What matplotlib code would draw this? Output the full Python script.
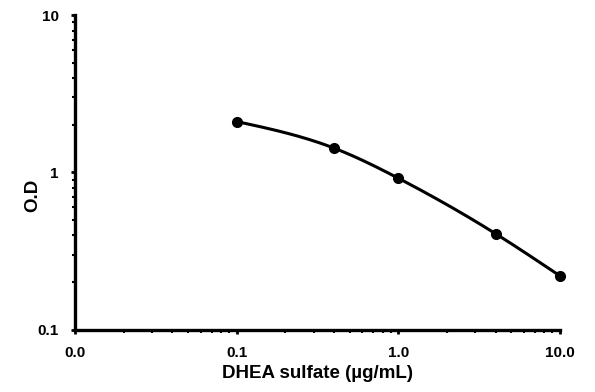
"""Standard curve: DHEA sulfate vs O.D"""

import numpy as np
import matplotlib
matplotlib.use("Agg")
import matplotlib.pyplot as plt
from matplotlib.ticker import FuncFormatter, LogLocator

conc = [0.1, 0.4, 1.0, 4.0, 10.0]
od = [2.11, 1.43, 0.92, 0.408, 0.22]
x_ticks = [0.01, 0.1, 1.0, 10.0]
y_ticks = [0.1, 1, 10]


def smooth(x, y, n=200):
    # natural cubic spline through the points, in log-log space
    lx, ly = np.log10(x), np.log10(y)
    k = len(lx)
    h = np.diff(lx)
    A = np.zeros((k, k))
    b = np.zeros(k)
    A[0, 0] = A[-1, -1] = 1
    for i in range(1, k - 1):
        A[i, i - 1] = h[i - 1]
        A[i, i] = 2 * (h[i - 1] + h[i])
        A[i, i + 1] = h[i]
        b[i] = 3 * ((ly[i + 1] - ly[i]) / h[i] - (ly[i] - ly[i - 1]) / h[i - 1])
    c = np.linalg.solve(A, b)
    xs, ys = [], []
    for i in range(k - 1):
        t = np.linspace(0, h[i], n // (k - 1))
        bi = (ly[i + 1] - ly[i]) / h[i] - h[i] * (2 * c[i] + c[i + 1]) / 3
        di = (c[i + 1] - c[i]) / (3 * h[i])
        xs.append(lx[i] + t)
        ys.append(ly[i] + bi * t + c[i] * t ** 2 + di * t ** 3)
    return 10 ** np.concatenate(xs), 10 ** np.concatenate(ys)


def main():
    plt.rcParams['font.family'] = ['Liberation Sans', 'DejaVu Sans']
    plt.rcParams['font.weight'] = 'bold'

    fig = plt.figure(figsize=(5.95, 3.92), dpi=100)
    ax = fig.add_axes([0.126, 0.159, 0.815, 0.802])

    sx, sy = smooth(conc, od)
    ax.plot(sx, sy, color='black', lw=2.2, zorder=3)
    ax.plot(conc, od, 'o', color='black', ms=7, zorder=4, clip_on=False)

    ax.set_xscale('log')
    ax.set_yscale('log')
    ax.set_xlim(0.01, 10)
    ax.set_ylim(0.1, 10)

    ax.set_xticks(x_ticks)
    ax.set_yticks(y_ticks)
    ax.xaxis.set_major_formatter(FuncFormatter(lambda v, p: f"{v:.1f}"))
    ax.yaxis.set_major_formatter(FuncFormatter(lambda v, p: f"{v:g}"))
    ax.xaxis.set_minor_locator(LogLocator(base=10, subs=np.arange(2, 10)))
    ax.yaxis.set_minor_locator(LogLocator(base=10, subs=np.arange(2, 10)))
    ax.xaxis.set_minor_formatter(FuncFormatter(lambda v, p: ""))
    ax.yaxis.set_minor_formatter(FuncFormatter(lambda v, p: ""))

    for side in ['top', 'right']:
        ax.spines[side].set_visible(False)
    for side in ['left', 'bottom']:
        ax.spines[side].set_linewidth(2.4)

    ax.tick_params(which='major', direction='out', length=3, width=2, labelsize=11)
    ax.tick_params(axis='x', which='major', pad=9)
    ax.tick_params(axis='y', which='major', pad=8.5)
    ax.tick_params(which='minor', direction='out', length=2, width=1.5)

    ax.set_xlabel('DHEA sulfate (µg/mL)', fontsize=13.5, fontweight='bold', labelpad=3)
    ax.set_ylabel('O.D', fontsize=13.5, fontweight='bold')
    # the y title sits a little below the middle of the axis in the original
    ax.yaxis.set_label_coords(-0.07, 0.428)

    fig.savefig('out.png', dpi=100)


if __name__ == "__main__":
    main()
